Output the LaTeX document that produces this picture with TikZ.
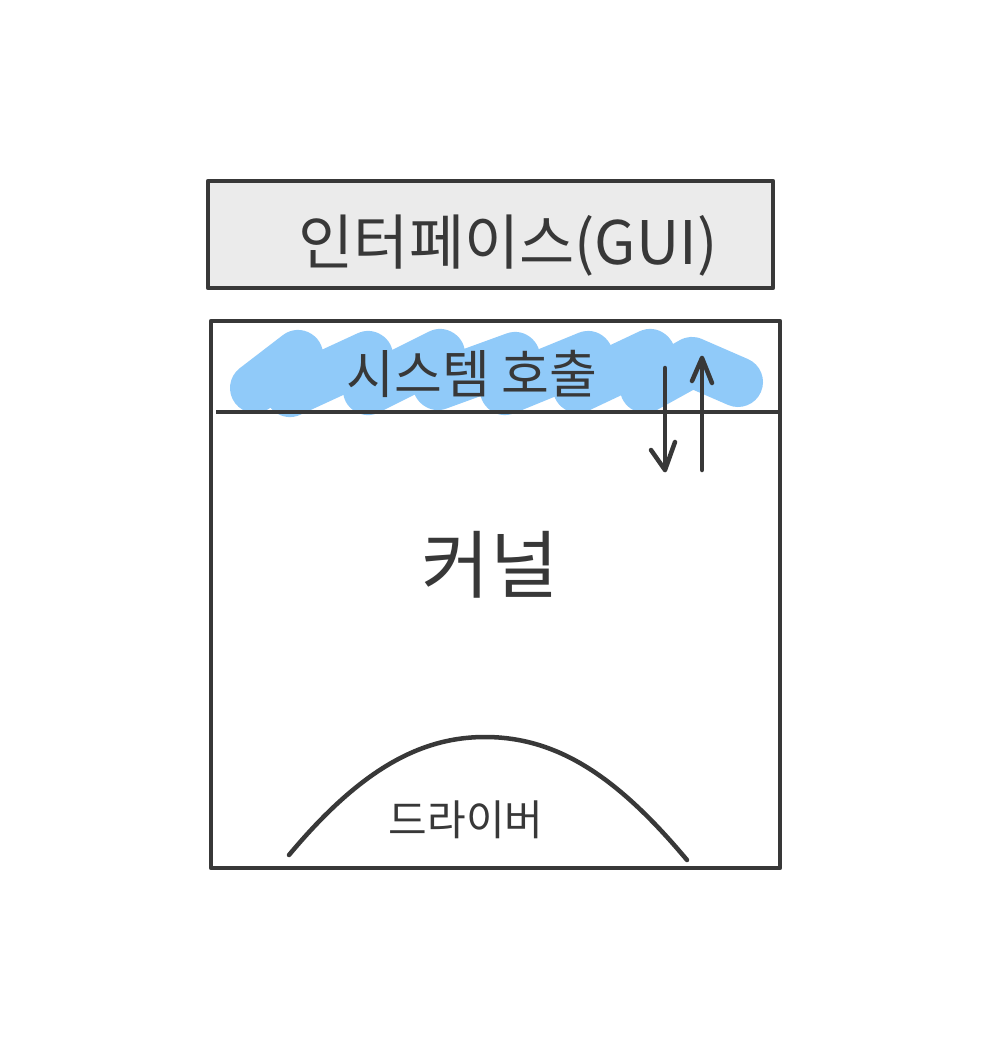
\documentclass[tikz,border=0pt]{standalone}
\usepackage{fontspec}
\newfontfamily\kr{Noto Sans CJK KR}
\definecolor{ink}{HTML}{383838}
\definecolor{hl}{HTML}{90CAF9}
\definecolor{boxfill}{HTML}{EBEBEB}
\begin{document}
\begin{tikzpicture}[x=1pt,y=-1pt,
  frame/.style={draw=ink,line width=4.5pt,line join=round},
  lbl/.style={text=ink,inner sep=0pt,font=\kr},
  arr/.style={draw=ink,line width=4.5pt,line cap=round,line join=round}]
\useasboundingbox[fill=white] (0,0) rectangle (999,1039);
% highlighter
\draw[hl,line width=50pt,line cap=round,line join=round]
  (255,388) -- (298,355) -- (290,392) -- (368,356) -- (368,390) -- (440,354)
  -- (438,385) -- (515,357) -- (505,390) -- (588,356) -- (578,388) -- (650,354)
  -- (645,388) -- (692,362) -- (738,382);
% top box
\node[frame,fill=boxfill,minimum width=565pt,minimum height=107pt,anchor=north west,inner sep=0pt,outer sep=0pt] (gui) at (208,181) {};
\node[lbl,font=\kr\fontsize{60}{66}\selectfont] (guit) at (508,246) {인터페이스(GUI)};
% kernel box
\node[frame,minimum width=569pt,minimum height=547pt,anchor=north west,inner sep=0pt,outer sep=0pt] (kern) at (211,321) {};
\coordinate (sl) at (216,412);
\coordinate (sr) at (780,412);
\draw[frame] (sl) -- (sr);
\node[lbl,font=\kr\fontsize{52}{56}\selectfont] (sys) at (472,374) {시스템 호출};
% arrows
\coordinate (d1) at (665,368); \coordinate (d2) at (665,470);
\coordinate (u1) at (702,470); \coordinate (u2) at (702,358);
\draw[arr] (d1) -- (d2);
\draw[arr] (651,450) -- (d2) -- (675,442);
\draw[arr] (u1) -- (u2);
\draw[arr] (692,381) -- (u2) -- (712,383);
\node[lbl,font=\kr\fontsize{74}{80}\selectfont] (kt) at (490,565) {커널};
% driver arc
\coordinate (a1) at (289,855); \coordinate (a2) at (687,860);
\draw[arr] (a1) .. controls (360,770) and (420,737) .. (485,737) .. controls (560,737) and (620,780) .. (a2);
\node[lbl,font=\kr\fontsize{42}{46}\selectfont] (dt) at (466,820) {드라이버};
\end{tikzpicture}
\end{document}
